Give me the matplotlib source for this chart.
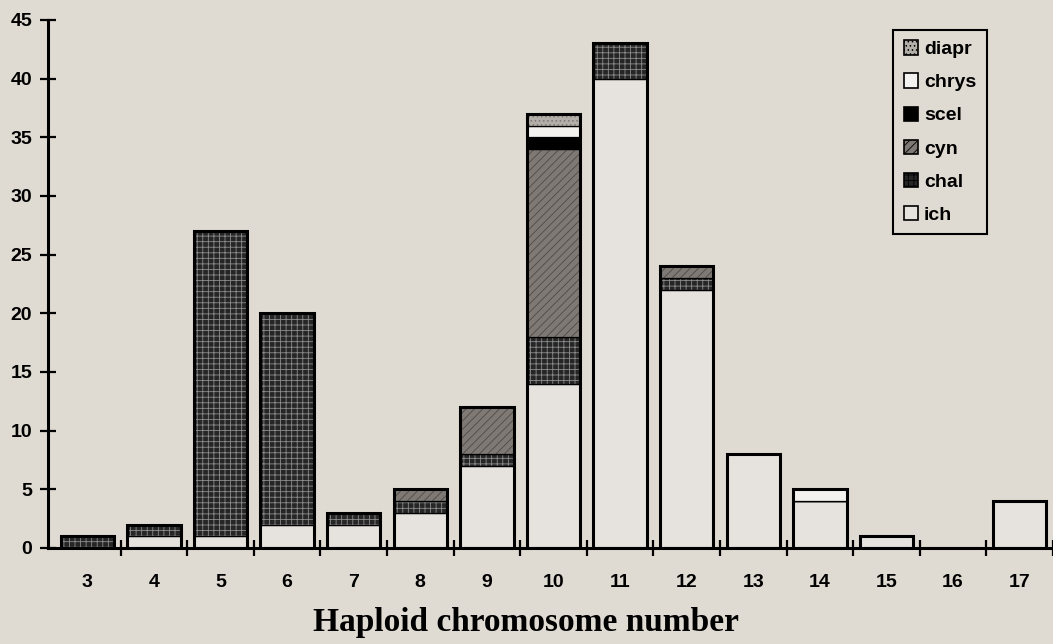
import matplotlib.pyplot as plt
import numpy as np
from matplotlib.patches import Patch

# chromosome numbers and counts per group (stacked bottom -> top)
cats = [3, 4, 5, 6, 7, 8, 9, 10, 11, 12, 13, 14, 15, 16, 17]
ich = [0, 1, 1, 2, 2, 3, 7, 14, 40, 22, 8, 4, 1, 0, 4]
chal = [1, 1, 26, 18, 1, 1, 1, 4, 3, 1, 0, 0, 0, 0, 0]
cyn = [0, 0, 0, 0, 0, 1, 4, 16, 0, 1, 0, 0, 0, 0, 0]
scel = [0, 0, 0, 0, 0, 0, 0, 1, 0, 0, 0, 0, 0, 0, 0]
chrys = [0, 0, 0, 0, 0, 0, 0, 1, 0, 0, 0, 1, 0, 0, 0]
diapr = [0, 0, 0, 0, 0, 0, 0, 1, 0, 0, 0, 0, 0, 0, 0]

names = ["ich", "chal", "cyn", "scel", "chrys", "diapr"]
series = [ich, chal, cyn, scel, chrys, diapr]
# face colour, hatch, hatch colour
styles = {
    "ich": ("#e6e3de", None, "#e6e3de"),
    "chal": ("#262626", "+++", "#8c8c8c"),
    "cyn": ("#7e7974", "////", "#4e4a46"),
    "scel": ("#000000", None, "#000000"),
    "chrys": ("#f4f2ee", None, "#f4f2ee"),
    "diapr": ("#b3aea8", "....", "#7d7873"),
}

bg = "#dfdad2"
plt.rcParams['font.family'] = ['Liberation Sans', 'DejaVu Sans']
plt.rcParams['hatch.linewidth'] = 0.6

fig = plt.figure(figsize=(10.53, 6.44), dpi=100, facecolor=bg)
ax = fig.add_axes([48 / 1053, 96 / 644, 1 - 48 / 1053, 528 / 644])
ax.set_facecolor(bg)

x = np.array(cats)
width = 0.8
bottom = np.zeros(len(cats))
for name, vals in zip(names, series):
    vals = np.array(vals, dtype=float)
    face, hatch, hcol = styles[name]
    ax.bar(x, vals, width, bottom=bottom, color=face, hatch=hatch,
           edgecolor=hcol, linewidth=0)
    ax.bar(x, vals, width, bottom=bottom, fill=False, edgecolor="black",
           linewidth=0.9)
    bottom += vals

# thick outline round each column
ax.bar(x, bottom, width, fill=False, edgecolor="black", linewidth=2.2)

ax.set_xlim(2.41, 17.5)
ax.set_ylim(0, 45)
for s in ["top", "right"]:
    ax.spines[s].set_visible(False)
for s in ["left", "bottom"]:
    ax.spines[s].set_linewidth(2.2)

ax.set_yticks(np.arange(0, 46, 5))
ax.tick_params(axis="y", direction="inout", length=11, width=1.6, pad=6,
               labelsize=14)
for lab in ax.get_yticklabels():
    lab.set_fontweight("bold")

# ticks at the column boundaries, labels at the centres
ax.set_xticks(np.arange(3.5, 17.6, 1.0))
ax.set_xticklabels([])
ax.tick_params(axis="x", which="major", direction="inout", length=11,
               width=1.6)
ax.set_xticks(x, minor=True)
ax.set_xticklabels([str(c) for c in cats], minor=True, fontweight="bold",
                   fontsize=14)
ax.tick_params(axis="x", which="minor", length=0, pad=19)

ax.set_xlabel("Haploid chromosome number", family="Liberation Serif",
              fontweight="bold", fontsize=24)
ax.xaxis.set_label_coords(0.476, -0.112)

handles = []
for name in ["diapr", "chrys", "scel", "cyn", "chal", "ich"]:
    face, hatch, hcol = styles[name]
    handles.append(Patch(facecolor=face, hatch=hatch, edgecolor="black",
                         linewidth=1.2, label=name))
leg = ax.legend(handles=handles, loc="upper right",
                bbox_to_anchor=(0.944, 1.0), frameon=True, fancybox=False,
                facecolor=bg, edgecolor="black", prop={"weight": "bold",
                                                       "size": 14},
                handlelength=0.75, handleheight=0.75, handletextpad=0.3,
                labelspacing=0.78, borderpad=0.55)
leg.get_frame().set_linewidth(1.5)
leg.get_frame().set_alpha(1)

plt.savefig("out.png", dpi=100, facecolor=bg)
